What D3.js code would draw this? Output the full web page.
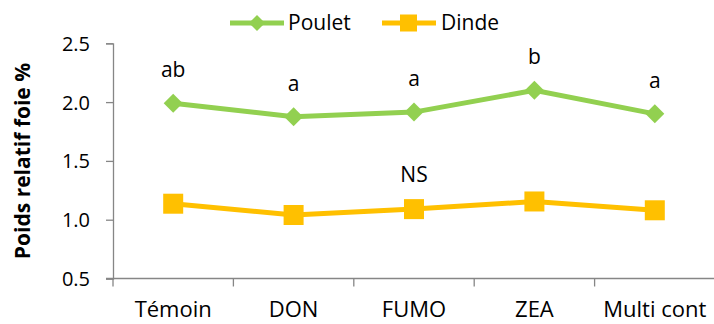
<!DOCTYPE html>
<html><head><meta charset="utf-8">
<script src="https://cdn.jsdelivr.net/npm/d3@7/dist/d3.min.js"></script>
<style>body{margin:0;background:#fff}svg{display:block}text{font-family:"Open Sans","Liberation Sans",sans-serif}</style>
</head><body>
<svg id="c" width="714" height="324"></svg>
<script>
const categories = ["Témoin","DON","FUMO","ZEA","Multi cont"];
const poulet = [1.99,1.875,1.915,2.10,1.90];
const dinde = [1.136,1.04,1.09,1.155,1.08];
const pouletLabels = ["ab","a","a","b","a"];
const yTicks = [0.5,1.0,1.5,2.0,2.5];

const svg = d3.select("#c");
const x = d3.scaleBand().domain(categories).range([113,715]);
const y = d3.scaleLinear().domain([0.5,2.5]).range([278.5,43.3]);
const green = "#92D050", orange = "#FFC000", axisCol = "#868686";

// y axis
const ya = svg.append("g").attr("transform","translate(113,0)")
  .call(d3.axisLeft(y).tickValues(yTicks).tickFormat(d3.format(".1f")).tickSizeOuter(0).tickSize(7).tickPadding(16));
ya.select(".domain").attr("stroke",axisCol).attr("stroke-width",1.3);
ya.selectAll(".tick line").attr("stroke",axisCol).attr("stroke-width",1.3);
ya.selectAll("text").attr("font-size",20).attr("fill","#000").attr("dy","0.35em");

// x axis
const xa = svg.append("g").attr("transform","translate(0,278.5)")
  .call(d3.axisBottom(x).tickSize(0).tickPadding(23));
xa.select(".domain").attr("stroke",axisCol).attr("stroke-width",1.3).attr("d","M106,0H714");
xa.selectAll("text").attr("font-size",22).attr("fill","#000");
// boundary ticks
xa.selectAll(".btick").data(categories).enter().append("line").attr("class","btick")
  .attr("x1",d=>x(d)).attr("x2",d=>x(d)).attr("y1",0).attr("y2",8)
  .attr("stroke",axisCol).attr("stroke-width",1.3);

// y label
svg.append("text").attr("transform","translate(30,161) rotate(-90)")
  .attr("text-anchor","middle").attr("font-size",21).attr("font-weight","bold").text("Poids relatif foie %");

const cx = d => x(d)+x.bandwidth()/2;
const line = d3.line().x((d,i)=>cx(categories[i])).y(d=>y(d));

svg.append("path").datum(dinde).attr("d",line).attr("fill","none").attr("stroke",orange).attr("stroke-width",5);
svg.selectAll(".sq").data(dinde).enter().append("rect")
  .attr("x",(d,i)=>cx(categories[i])-10).attr("y",d=>y(d)-10).attr("width",20).attr("height",20).attr("fill",orange);

svg.append("path").datum(poulet).attr("d",line).attr("fill","none").attr("stroke",green).attr("stroke-width",5);
const diamond = d3.symbol().type(d3.symbolSquare).size(180);
svg.selectAll(".dm").data(poulet).enter().append("path")
  .attr("d",diamond()).attr("fill",green)
  .attr("transform",(d,i)=>`translate(${cx(categories[i])},${y(d)}) rotate(45)`);

// significance labels
svg.selectAll(".lab").data(pouletLabels).enter().append("text")
  .attr("x",(d,i)=>cx(categories[i])).attr("y",(d,i)=>y(poulet[i])-26)
  .attr("text-anchor","middle").attr("font-size",21).text(d=>d);
svg.append("text").attr("x",cx("FUMO")).attr("y",y(dinde[2])-27).attr("text-anchor","middle").attr("font-size",21).text("NS");

// legend
const lg = svg.append("g");
lg.append("line").attr("x1",230).attr("x2",284).attr("y1",23).attr("y2",23).attr("stroke",green).attr("stroke-width",5);
lg.append("path").attr("d",d3.symbol().type(d3.symbolSquare).size(130)()).attr("fill",green).attr("transform","translate(257,23) rotate(45)");
lg.append("text").attr("x",288).attr("y",23).attr("dy","0.35em").attr("font-size",21).text("Poulet");
lg.append("line").attr("x1",382).attr("x2",436).attr("y1",23).attr("y2",23).attr("stroke",orange).attr("stroke-width",5);
lg.append("rect").attr("x",400).attr("y",14.5).attr("width",17).attr("height",17).attr("fill",orange);
lg.append("text").attr("x",441).attr("y",23).attr("dy","0.35em").attr("font-size",21).text("Dinde");
</script>
</body></html>
